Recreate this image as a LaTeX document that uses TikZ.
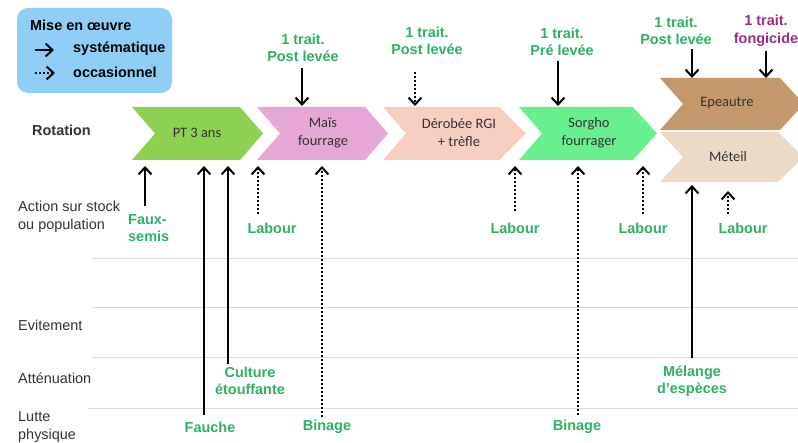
\documentclass[tikz,border=0pt]{standalone}
\usepackage{fontspec}
\setmainfont{Liberation Sans}
\newfontfamily\cropfont{Carlito}
\usetikzlibrary{arrows.meta}
\definecolor{legblue}{RGB}{143,207,247}
\definecolor{ptgreen}{RGB}{141,208,82}
\definecolor{maispink}{RGB}{230,166,214}
\definecolor{rgisalmon}{RGB}{248,206,192}
\definecolor{sorgreen}{RGB}{104,240,142}
\definecolor{epbrown}{RGB}{197,152,107}
\definecolor{metbeige}{RGB}{237,218,198}
\definecolor{labgreen}{RGB}{44,178,98}
\definecolor{labpurple}{RGB}{153,45,135}
\definecolor{gridgray}{RGB}{218,218,218}
\tikzset{
  lab/.style={font=\bfseries\fontsize{14.5}{17.5}\selectfont, text=labgreen, align=center, inner sep=1bp},
  rowlab/.style={font=\fontsize{14.5}{18}\selectfont, text=black!80, align=left, anchor=west, inner sep=0pt},
  croplab/.style={font=\cropfont\fontsize{14.5}{18}\selectfont, text=black!80, align=center},
  sys/.style={line width=1.9bp, -{Straight Barb[length=7bp,width=13bp,line width=2bp]}},
  occ/.style={line width=2.6bp, dash pattern=on 2.2bp off 1.8bp, -{Straight Barb[length=7bp,width=13bp,line width=2bp]}}
}
\begin{document}
\begin{tikzpicture}[x=1bp, y=-1bp]
\useasboundingbox (0,0) rectangle (798,443);
\clip (0,0) rectangle (798,443);
% legend
\fill[legblue, rounded corners=11bp] (17,8) rectangle (172,93); % legend box
\node[anchor=west, inner sep=0pt, font=\bfseries\fontsize{14.5}{17}\selectfont] (leg) at (30,25) {Mise en œuvre};
\node[anchor=west, inner sep=0pt, font=\bfseries\fontsize{14.5}{17}\selectfont] (legsys) at (73,49) {systématique};
\node[anchor=west, inner sep=0pt, font=\bfseries\fontsize{14.5}{17}\selectfont] (legocc) at (73,72) {occasionnel};
\coordinate (sysa) at (35,50);
\coordinate (occa) at (35,73);
\draw[sys] (sysa) -- ++(19,0); % solid sample
\draw[occ] (occa) -- ++(20,0); % dotted sample
% grid lines
\draw[gridgray, line width=1bp] (92,259) -- (798,259);
\draw[gridgray, line width=1bp] (92,308) -- (798,308);
\draw[gridgray, line width=1bp] (92,358) -- (798,358);
\draw[gridgray, line width=1bp] (88,408) -- (798,408);
% row labels
\node[rowlab, font=\bfseries\fontsize{14.5}{18}\selectfont] (rrot) at (32,130) {Rotation};
\node[rowlab] (rstock) at (18,217) {Action sur stock\\ou population};
\node[rowlab] (revit) at (18,325) {Evitement};
\node[rowlab] (ratt) at (18,378) {Atténuation};
\node[rowlab] (rlutte) at (18,427) {Lutte\\physique};
% chevrons
\fill[ptgreen] (132,107) -- (240,107) -- (263,133.5) -- (240,160) -- (132,160) -- (155,133.5) -- cycle;
\fill[maispink] (257,107) -- (365,107) -- (388,133.5) -- (365,160) -- (257,160) -- (280,133.5) -- cycle;
\fill[rgisalmon] (383,107) -- (499,107) -- (526,133.5) -- (499,160) -- (383,160) -- (406,133.5) -- cycle;
\fill[sorgreen] (519,107) -- (633,107) -- (657,133.5) -- (633,160) -- (519,160) -- (542,133.5) -- cycle;
\fill[epbrown] (660,78) -- (780,78) -- (804,104) -- (780,130) -- (660,130) -- (683,104) -- cycle;
\fill[metbeige] (660,132) -- (778,132) -- (803,157) -- (778,182) -- (660,182) -- (683,157) -- cycle;
\node[croplab] (pt) at (197,133) {PT 3 ans};
\node[croplab] (mais) at (323,133) {Maïs\\fourrage};
\node[croplab] (rgi) at (459,133) {Dérobée RGI\\+ trèfle};
\node[croplab] (sorgho) at (589,133) {Sorgho\\fourrager};
\node[croplab] (epeautre) at (727,103) {Epeautre};
\node[croplab] (meteil) at (728,157) {Méteil};
% treatments above
\node[lab] (trait1) at (303,48) {1 trait.\\Post levée};
\node[lab] (trait2) at (427,41) {1 trait.\\Post levée};
\node[lab] (trait3) at (562,42) {1 trait.\\Pré levée};
\node[lab] (trait4) at (676,31) {1 trait.\\Post levée};
\node[lab, text=labpurple] (trait5) at (766,31) {1 trait.\\fongicide};
\coordinate (t1) at (302,106);
\coordinate (t2) at (415,106);
\coordinate (t3) at (558,106);
\coordinate (t4) at (692,78);
\coordinate (t5) at (766,78);
\draw[sys] (trait1.south -| t1) ++(0,5) -- (t1);
\draw[occ] (trait2.south -| t2) ++(0,16) -- (t2);
\draw[sys] (trait3.south -| t3) ++(0,4) -- (t3);
\draw[sys] (trait4.south -| t4) ++(0,3) -- (t4);
\draw[sys] (trait5.south -| t5) ++(0,3) -- (t5);
% actions below
\node[lab, align=left, anchor=west] (faux) at (127,228) {Faux-\\semis};
\node[lab] (fauche) at (210,427) {Fauche};
\node[lab] (culture) at (250,381) {Culture\\étouffante};
\node[lab] (labour1) at (272,228) {Labour};
\node[lab] (binage1) at (327,427) {Binage};
\node[lab] (labour2) at (515,228) {Labour};
\node[lab] (binage2) at (577,427) {Binage};
\node[lab] (labour3) at (643,228) {Labour};
\node[lab] (melange) at (692,381) {Mélange\\d'espèces};
\node[lab] (labour4) at (743,228) {Labour};
\coordinate (b1) at (145,166);
\coordinate (b2) at (204,166);
\coordinate (b3) at (228,166);
\coordinate (b4) at (258,166);
\coordinate (b5) at (322,166);
\coordinate (b6) at (515,166);
\coordinate (b7) at (578,166);
\coordinate (b8) at (643,166);
\coordinate (b9) at (692,185);
\coordinate (b10) at (728,191);
\draw[sys] (faux.north -| b1) ++(0,-7) -- (b1);
\draw[sys] (fauche.north -| b2) ++(0,-5) -- (b2);
\draw[sys] (culture.north -| b3) ++(0,-2) -- (b3);
\draw[occ] (labour1.north -| b4) ++(0,-7) -- (b4);
\draw[occ] (binage1.north -| b5) ++(0,-2) -- (b5);
\draw[occ] (labour2.north -| b6) ++(0,-10) -- (b6);
\draw[occ] (binage2.north -| b7) ++(0,-4) -- (b7);
\draw[occ] (labour3.north -| b8) ++(0,-7) -- (b8);
\draw[sys] (melange.north -| b9) ++(0,-6) -- (b9);
\draw[occ] (labour4.north -| b10) ++(0,-7) -- (b10);
\end{tikzpicture}
\end{document}
